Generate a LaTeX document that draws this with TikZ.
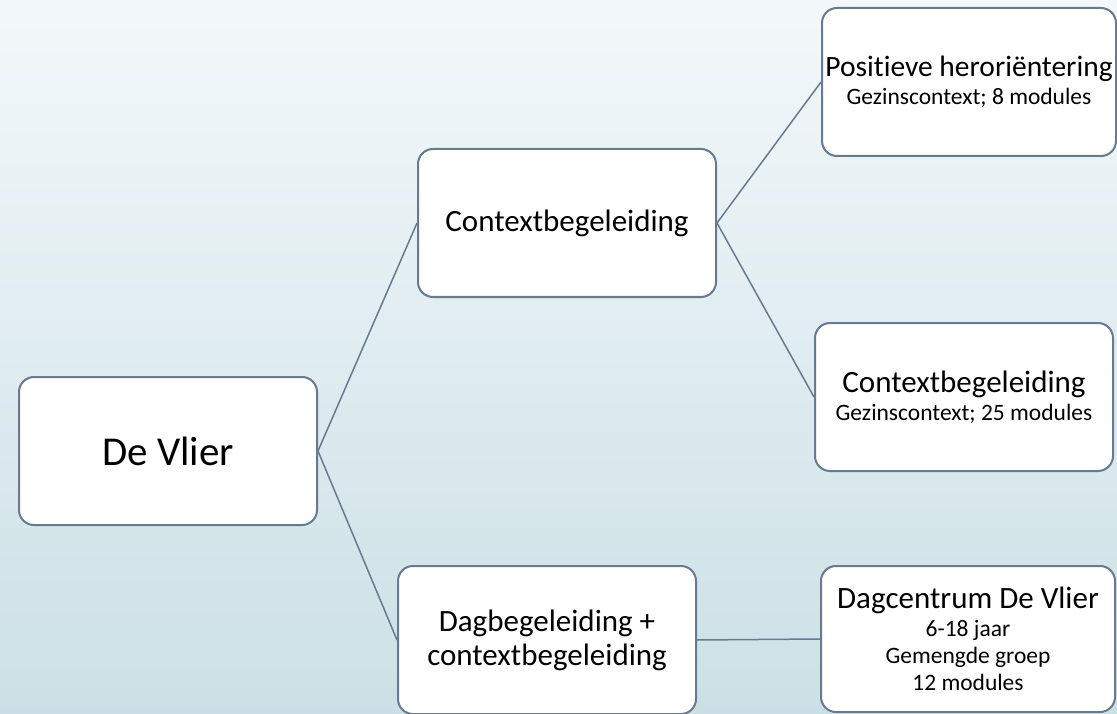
\documentclass[tikz,border=0pt]{standalone}
\usepackage{fontspec}
\setmainfont{Carlito}[Ligatures=NoCommon]
\definecolor{bgtop}{HTML}{F3F8FA}
\definecolor{bgbot}{HTML}{CBE0E6}
\definecolor{boxline}{HTML}{687A8E}
\newcommand{\bigsize}{\fontsize{41}{46}\selectfont}
\newcommand{\midsize}{\fontsize{31}{34}\selectfont}
\newcommand{\smallsize}{\fontsize{23.5}{27}\selectfont}

\begin{document}
\begin{tikzpicture}[x=1pt, y=-1pt,
    box/.style={draw=boxline, line width=2pt, fill=white, rounded corners=15pt,
                minimum width=298pt, minimum height=148pt, align=center, inner sep=0pt},
    subbox/.style={box, font=\smallsize},
    link/.style={draw=boxline, line width=1.5pt}]

    \shade[top color=bgtop, bottom color=bgbot] (0, 0) rectangle (1117, 714);
    \useasboundingbox (0, 0) rectangle (1117, 714);

    \node[box, font=\bigsize] (vlier) at (168, 451) {De Vlier};
    \node[box, font=\midsize] (ctx) at (567, 223) {Contextbegeleiding};
    \node[box, font=\midsize] (dag) at (547, 640) {Dagbegeleiding +\\contextbegeleiding};

    \node[subbox, minimum width=294pt] (pos) at (969, 82)
        {{\fontsize{29.5}{34}\selectfont Positieve heroriëntering}\\[1pt] Gezinscontext; 8 modules};
    \node[subbox] (ctx2) at (964, 397)
        {{\midsize Contextbegeleiding}\\[1pt] Gezinscontext; 25 modules};
    \node[subbox, minimum width=294pt, minimum height=146pt] (centrum) at (968, 639)
        {{\midsize Dagcentrum De Vlier}\\[1pt] 6-18 jaar\\ Gemengde groep\\ 12 modules};

    \draw[link] (vlier.east) -- (ctx.west);
    \draw[link] (vlier.east) -- (dag.west);
    \draw[link] (ctx.east) -- (pos.west);
    \draw[link] (ctx.east) -- (ctx2.west);
    \draw[link] (dag.east) -- (centrum.west);

\end{tikzpicture}
\end{document}
